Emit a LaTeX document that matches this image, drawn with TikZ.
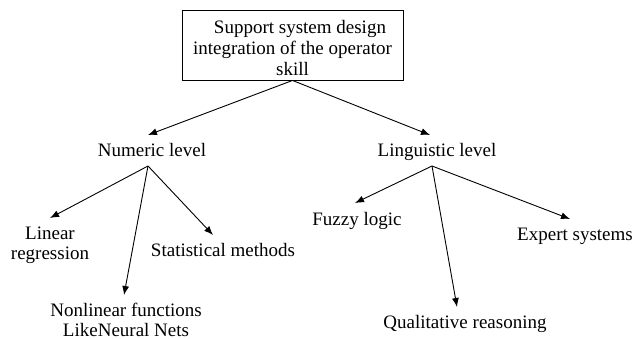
\documentclass[tikz,border=0pt]{standalone}
\usepackage{fontspec}
\setmainfont{Liberation Serif}
\usetikzlibrary{arrows.meta}
\begin{document}
\begin{tikzpicture}[x=1pt,y=-1pt,
  lbl/.style={inner sep=0pt, anchor=base, align=center, font=\fontsize{19}{20}\selectfont},
  topbox/.style={draw, line width=0.9pt, minimum width=221pt, minimum height=70pt, inner sep=0pt, align=center, font=\fontsize{19}{21}\selectfont},
  arr/.style={line width=0.9pt, -{Latex[length=9pt,width=7pt]}}]
\useasboundingbox (0,0) rectangle (634,339);
\node[topbox] (top) at (292.5,45) {\rule{0pt}{20pt}\hspace*{15pt}Support system design\\integration of the operator\\skill};
\node[lbl] (num) at (152,157) {Numeric level};
\node[lbl] (ling) at (437,157) {Linguistic level};
\node[lbl] (lin) at (50,259) {Linear\\regression};
\node[lbl] (nonlin) at (126,336) {Nonlinear functions\\LikeNeural Nets};
\node[lbl] (stat) at (223,256) {Statistical methods};
\node[lbl] (fuzzy) at (357,225) {Fuzzy logic};
\node[lbl] (expert) at (575,240) {Expert systems};
\node[lbl] (qual) at (465,328) {Qualitative reasoning};
\draw[arr] (top.south) -- ([xshift=-4pt,yshift=22pt]num.base);
\draw[arr] (top.south) -- ([xshift=-7pt,yshift=22pt]ling.base);
\draw[arr] ([xshift=-4pt,yshift=-9pt]num.base) -- ([yshift=41pt]lin.base);
\draw[arr] ([xshift=-4pt,yshift=-9pt]num.base) -- ([xshift=-2pt,yshift=41pt]nonlin.base);
\draw[arr] ([xshift=-4pt,yshift=-9pt]num.base) -- ([xshift=-10pt,yshift=21pt]stat.base);
\draw[arr] ([xshift=-5pt,yshift=-9pt]ling.base) -- ([xshift=-2pt,yshift=22pt]fuzzy.base);
\draw[arr] ([xshift=-5pt,yshift=-9pt]ling.base) -- ([xshift=-8pt,yshift=21pt]qual.base);
\draw[arr] ([xshift=-5pt,yshift=-9pt]ling.base) -- ([xshift=-5pt,yshift=21pt]expert.base);
\end{tikzpicture}
\end{document}
